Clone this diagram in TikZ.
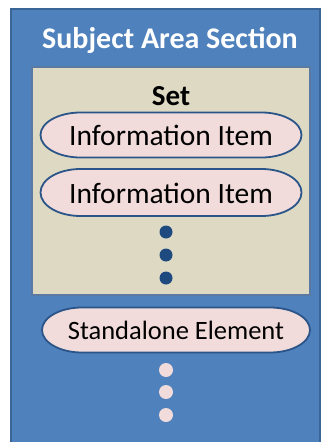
\documentclass[tikz,border=0pt]{standalone}
\usepackage{fontspec}
\setmainfont{Carlito}
\definecolor{outerblue}{HTML}{4F81BD}
\definecolor{outerborder}{HTML}{3A6597}
\definecolor{tan}{HTML}{DDD9C3}
\definecolor{tanborder}{HTML}{5A7AA3}
\definecolor{pinkfill}{HTML}{F2DCDB}
\definecolor{ellborder}{HTML}{2B5589}
\definecolor{darkdot}{HTML}{1F4A80}
\tikzset{
  capline/.style={draw=ellborder, line width=1.8pt, fill=pinkfill},
  itemtext/.style={inner sep=0pt, font=\fontsize{29.5}{32}\selectfont},
  dotdark/.style={circle, fill=darkdot, inner sep=0pt, minimum size=13pt},
  dotpink/.style={circle, fill=pinkfill, inner sep=0pt, minimum size=14pt}
}
% center x, center y, half width, half height, end radius
\newcommand\capsuleshape[5]{%
  \path[capline] (#1-#3+#5, #2-#4) -- (#1+#3-#5, #2-#4)
    arc[start angle=90, end angle=-90, x radius=#5pt, y radius=#4pt]
    -- (#1-#3+#5, #2+#4)
    arc[start angle=-90, end angle=-270, x radius=#5pt, y radius=#4pt] -- cycle;}
\begin{document}
\begin{tikzpicture}[x=1pt,y=-1pt]
\useasboundingbox (0,0) rectangle (323,442);
\fill[white] (0,0) rectangle (323,442);
\draw[fill=outerblue, draw=outerborder, line width=2.5pt] (11,9) rectangle (320,460);
\node[anchor=base, text=white, font=\bfseries\fontsize{30}{34}\selectfont] (title) at (170,48) {Subject Area Section};
\draw[fill=tan, draw=tanborder, line width=2pt] (32,67) rectangle (310,295);
\node[anchor=base, font=\bfseries\fontsize{29}{32}\selectfont] (set) at (171,105) {Set};
\capsuleshape{171}{135}{130.5}{22.5}{40}
\node[itemtext] (i1) at (171,135.5) {Information Item};
\capsuleshape{171}{192.5}{130.5}{23.5}{40}
\node[itemtext] (i2) at (171,193) {Information Item};
\node[dotdark] (d1) at (166,232) {};
\node[dotdark] (d2) at (166,255) {};
\node[dotdark] (d3) at (166,278) {};
\capsuleshape{176}{330}{134}{22.5}{40}
\node[itemtext, font=\fontsize{26.5}{30}\selectfont] (se) at (176,330.5) {Standalone Element};
\node[dotpink] (p1) at (166,370) {};
\node[dotpink] (p2) at (166,392) {};
\node[dotpink] (p3) at (166,415) {};
\end{tikzpicture}
\end{document}
